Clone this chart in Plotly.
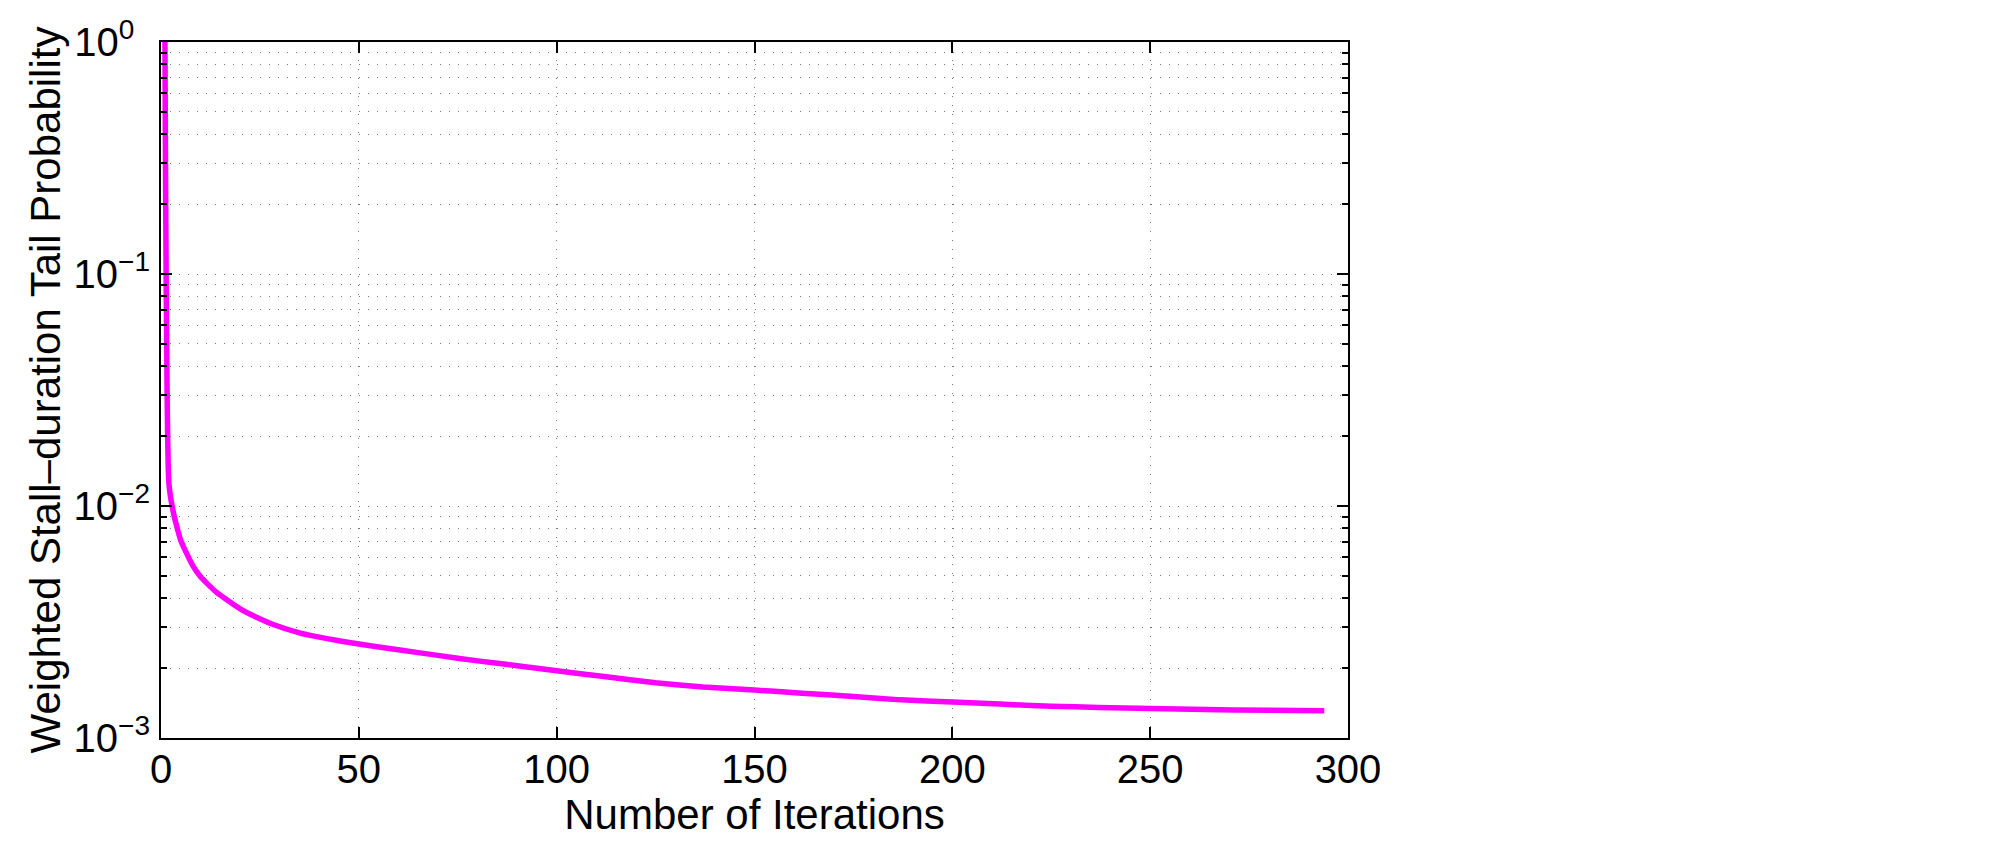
import plotly.graph_objects as go

# Data
iterations = [1, 2, 3, 4, 5, 6, 8, 10, 12, 14, 17, 20, 24, 28, 35, 42, 50, 60, 70, 80, 90, 100,
              112, 125, 137, 150, 162, 175, 187, 200, 212, 225, 237, 250, 271, 294]
tail_prob = [1.0, 1.25e-2, 9.6e-3, 8.15e-3, 7.1e-3, 6.5e-3, 5.55e-3, 4.95e-3, 4.57e-3, 4.25e-3,
             3.9e-3, 3.6e-3, 3.32e-3, 3.1e-3, 2.84e-3, 2.68e-3, 2.54e-3, 2.4e-3, 2.27e-3, 2.15e-3,
             2.05e-3, 1.95e-3, 1.84e-3, 1.73e-3, 1.66e-3, 1.61e-3, 1.56e-3, 1.51e-3, 1.46e-3,
             1.43e-3, 1.40e-3, 1.37e-3, 1.355e-3, 1.34e-3, 1.32e-3, 1.31e-3]

x_ticks = [0, 50, 100, 150, 200, 250, 300]
y_major = [1e-3, 1e-2, 1e-1, 1e0]
# figure space after the single-digit exponent keeps every "10" at the same place
y_major_text = ["10<sup>\u22123</sup>", "10<sup>\u22122</sup>", "10<sup>\u22121</sup>",
                "10<sup>0\u2007</sup>"]
y_minor = [m * d for d in (1e-3, 1e-2, 1e-1) for m in range(2, 10)]

FONT = "Liberation Sans, Arial, Helvetica, sans-serif"
TICK_SIZE = 40
TITLE_SIZE = 42
grid = dict(gridcolor="#777777", gridwidth=1, griddash="1px,8px")

fig = go.Figure()
fig.add_trace(go.Scatter(x=iterations, y=tail_prob, mode="lines",
                         line=dict(color="#ff00ff", width=5.5, shape="spline", smoothing=0.5),
                         showlegend=False))

fig.update_layout(
    width=2000, height=842,
    margin=dict(l=161, r=652, t=42, b=104),
    paper_bgcolor="white", plot_bgcolor="white",
    font=dict(family=FONT, size=TICK_SIZE, color="black"),
)
fig.update_xaxes(
    range=[0, 300], tickmode="array", tickvals=x_ticks,
    ticks="inside", ticklen=11, tickwidth=1.5, tickcolor="black",
    showline=True, linecolor="black", linewidth=2, mirror="ticks",
    showgrid=True, **grid, zeroline=False, ticklabelstandoff=-5,
    title=dict(text="Number of Iterations", standoff=0, font=dict(size=TITLE_SIZE)),
    tickfont=dict(size=TICK_SIZE),
)
fig.update_yaxes(
    type="log", range=[-3, 0], tickmode="array", tickvals=y_major, ticktext=y_major_text,
    ticks="inside", ticklen=11, tickwidth=1.5, tickcolor="black",
    showline=True, linecolor="black", linewidth=2, mirror="ticks",
    showgrid=True, **grid, zeroline=False, ticklabelstandoff=1,
    minor=dict(tickmode="array", tickvals=y_minor, ticks="inside", ticklen=6,
               tickwidth=1.5, tickcolor="black", showgrid=True,
               gridcolor="#777777", gridwidth=1, griddash="1px,8px"),
    title=dict(text="Weighted Stall\u2013duration Tail Probability", standoff=0,
               font=dict(size=TITLE_SIZE)),
    tickfont=dict(size=TICK_SIZE),
)

fig.write_html("out.html")
